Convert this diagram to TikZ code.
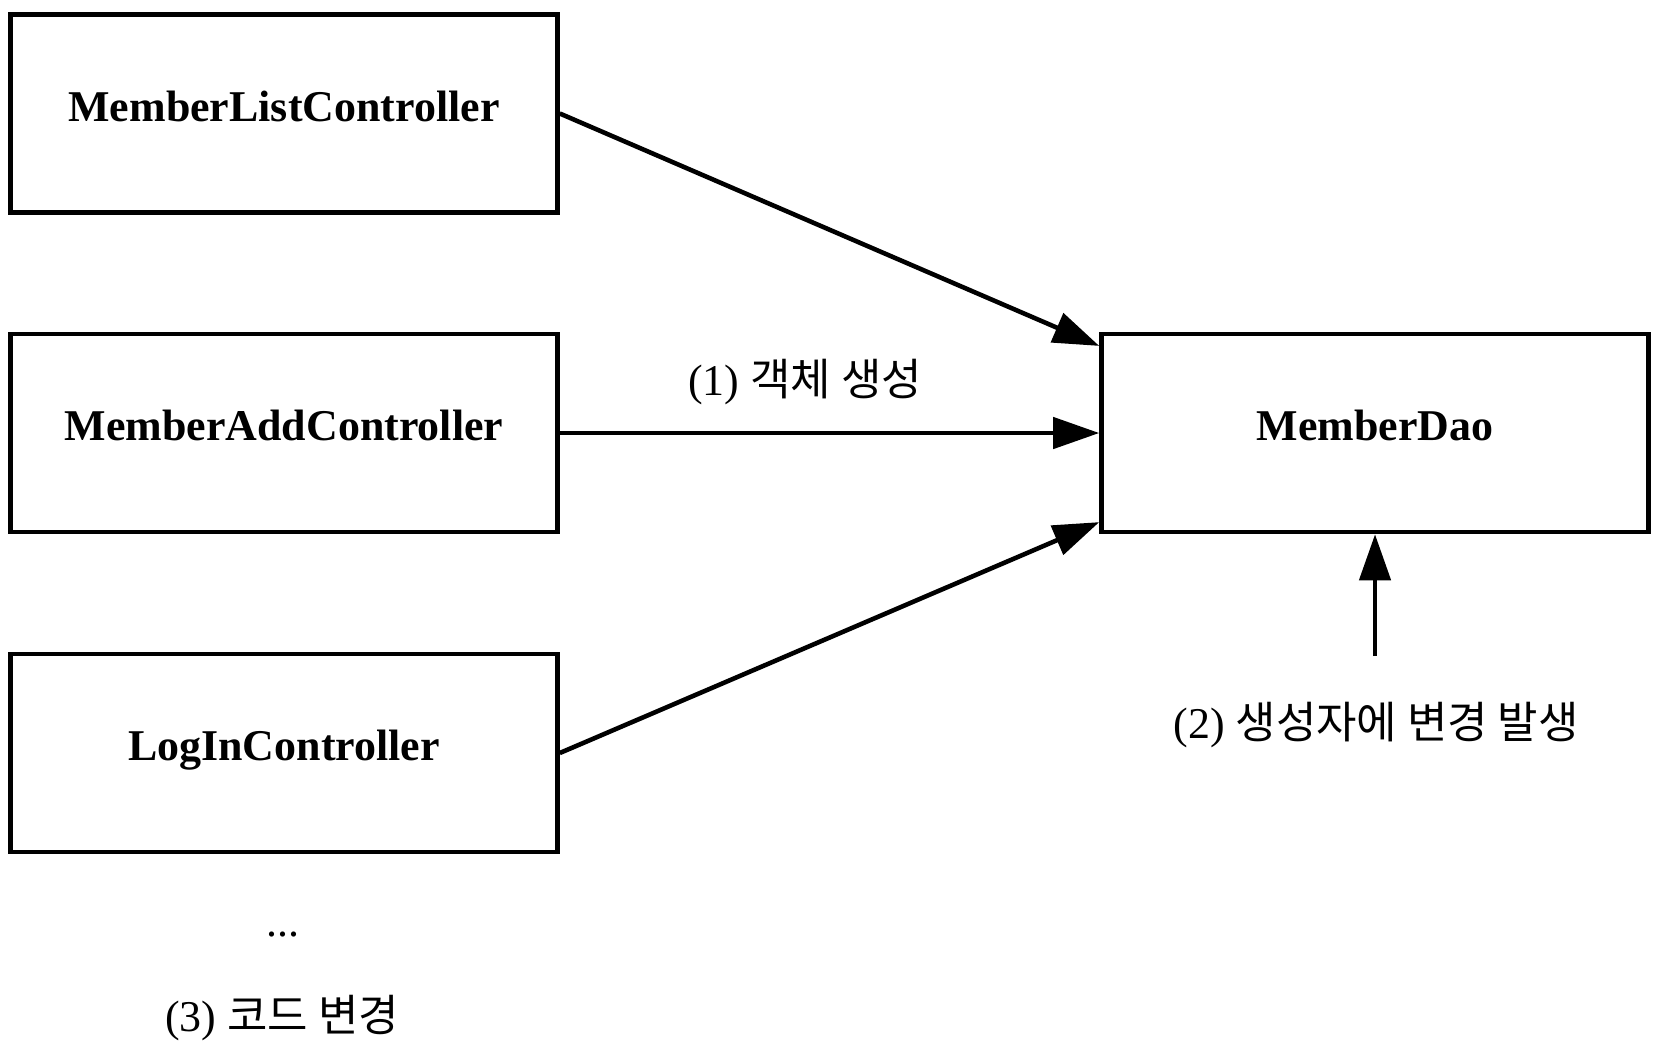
\documentclass[tikz,border=0pt]{standalone}
\usepackage{fontspec}
\setmainfont{Liberation Serif}
\newfontfamily\kr{Noto Sans CJK KR}
\usetikzlibrary{calc,arrows.meta}
\tikzset{
  box/.style={draw,line width=1.3pt,minimum width=5.47cm,minimum height=1.98cm,
    text height=0.30cm,text depth=0.15cm,
    font=\fontsize{12.5}{15}\selectfont\bfseries},
  dep/.style={line width=1.3pt,-{Triangle[length=4.6mm,width=3.1mm]}},
  note/.style={font=\fontsize{12.5}{15}\selectfont}
}
\begin{document}
\begin{tikzpicture}
        \useasboundingbox (0,0) rectangle (16.64,-10.56);
        % controllers and dao
        \node[box] (list)  at (2.84,-1.135) {MemberListController};
        \node[box] (add)   at (2.84,-4.33) {MemberAddController};
        \node[box] (login) at (2.84,-7.53) {LogInController};
        \node[box] (dao)   at (13.75,-4.33) {MemberDao};
        % notes
        \node[note] (create) at (8.05,-3.82) {(1) {\kr 객체 생성}};
        \node[note] (change) at (13.76,-7.25) {(2) {\kr 생성자에 변경 발생}};
        \node[note] (more)   at (2.83,-9.34) {...};
        \node[note] (code)   at (2.82,-10.18) {(3) {\kr 코드 변경}};
        \coordinate (cause) at (13.75,-6.56);
        % dependencies
        \draw[dep] (list.east) -- ($(dao.north west)!0.07!(dao.south west)$);
        \draw[dep] (add.east) -- (dao.west);
        \draw[dep] (login.east) -- ($(dao.north west)!0.94!(dao.south west)$);
        \draw[dep] (cause) -- (dao.south);
\end{tikzpicture}
\end{document}
